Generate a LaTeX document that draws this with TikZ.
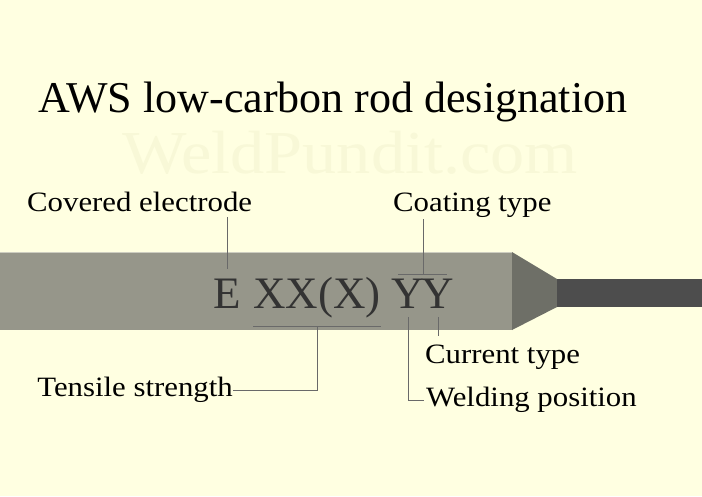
\documentclass[tikz,border=0pt]{standalone}
\usepackage{fontspec}
\setmainfont{Liberation Serif}
\newfontfamily\widefont[FakeStretch=1.1]{Liberation Serif}
\newfontfamily\markfont[FakeStretch=1.12]{Liberation Serif}
\usetikzlibrary{calc}
\definecolor{bgcream}{RGB}{255,255,225}
\definecolor{rodcoat}{RGB}{150,150,138}
\definecolor{rodedge}{RGB}{205,205,192}
\definecolor{rodtaper}{RGB}{110,111,103}
\definecolor{rodcore}{RGB}{77,77,77}
\definecolor{codeink}{RGB}{51,51,51}
\definecolor{leadgray}{RGB}{105,105,105}
\definecolor{markfaint}{RGB}{248,248,215}

\begin{document}
\begin{tikzpicture}[x=1pt,y=-1pt,
    lbl/.style={inner sep=0pt,font=\widefont\fontsize{28}{32}\selectfont,text=black},
    code/.style={inner sep=0pt,anchor=base,font=\fontsize{45}{50}\selectfont,text=codeink},
    lead/.style={draw=leadgray,line width=0.6pt}]
   \fill[bgcream] (0,0) rectangle (702,496);
   \useasboundingbox (0,0) rectangle (702,496);
   % watermark and title
   \node[inner sep=0pt,anchor=base,font=\markfont\fontsize{61}{64}\selectfont,text=markfaint] (mark) at (350,173) {WeldPundit.com};
   \node[inner sep=0pt,anchor=base west,font=\fontsize{44}{48}\selectfont] (title) at (38,112) {AWS low-carbon rod designation};
   % the rod
   \fill[rodcoat] (0,252) rectangle (512,330);
   \draw[rodedge,line width=1pt] (0,252.5) -- (512,252.5);
   \fill[rodtaper] (512,252) -- (557,279) -- (557,307) -- (512,330) -- cycle;
   \fill[rodcore] (557,279) rectangle (702,307);
   % code letters
   \node[code] (codeE) at (227,308) {E};
   \node[code] (codeX) at (317,308) {XX(X)};
   \node[code] (codeYa) at (408,308) {Y};
   \node[code] (codeYb) at (438,308) {Y};
   % labels
   \node[lbl,anchor=base west] (cov) at (27,211) {Covered electrode};
   \node[lbl,anchor=base west] (coat) at (393,211) {Coating type};
   \node[lbl,anchor=east] (tens) at (233,390) {Tensile strength};
   \node[lbl,anchor=base west] (curr) at (425,363) {Current type};
   \node[lbl,anchor=west] (weld) at (426,400) {Welding position};
   % leaders
   \draw[lead] ($(codeE.north |- cov.south)+(0,6)$) -- ([yshift=9pt]codeE.north);
   \coordinate (ybar) at ($(codeYa.north)!0.5!(codeYb.north)+(0,-4)$);
   \draw[lead] ($(ybar |- coat.south)+(0,2)$) -- (ybar);
   \draw[lead] ([xshift=-10pt,yshift=4pt]codeYa.north) -- ([xshift=9pt,yshift=4pt]codeYb.north);
   \draw[lead] ([yshift=-9pt]codeX.south west) -- ([yshift=-9pt]codeX.south east);
   \draw[lead] ([yshift=-9pt]codeX.south) -- (codeX.south |- tens.east) -- (tens.east);
   \draw[lead] ([yshift=-9pt]codeYa.south) -- (codeYa.south |- weld.west) -- ([xshift=-2pt]weld.west);
   \draw[lead] ([yshift=-9pt]codeYb.south) -- ([yshift=8pt]codeYb.south |- curr.north);
\end{tikzpicture}
\end{document}
